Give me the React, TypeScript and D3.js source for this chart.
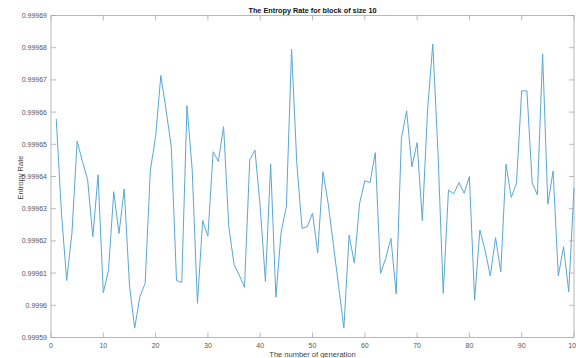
import * as d3 from "d3";

// entropy rate per generation (1..100)
const generations = d3.range(1, 101);
const entropyRate = [
  0.9996579, 0.9996286, 0.9996077, 0.9996223, 0.999651, 0.9996447, 0.999639, 0.9996213, 0.9996405, 0.9996039,
  0.9996109, 0.9996353, 0.9996223, 0.9996361, 0.9996063, 0.9995929, 0.9996027, 0.9996068, 0.999642, 0.9996524,
  0.9996714, 0.9996607, 0.9996492, 0.9996077, 0.9996071, 0.999662, 0.999642, 0.9996006, 0.9996263, 0.9996215,
  0.9996477, 0.9996447, 0.9996555, 0.9996244, 0.9996126, 0.9996094, 0.9996056, 0.9996452, 0.9996482, 0.9996306,
  0.9996074, 0.9996438, 0.9996025, 0.9996228, 0.9996306, 0.9996795, 0.9996441, 0.9996239, 0.9996244, 0.9996286,
  0.9996163, 0.9996415, 0.9996316, 0.9996188, 0.9996058, 0.9995929, 0.9996218, 0.9996131, 0.9996316, 0.9996387,
  0.9996381, 0.9996474, 0.9996099, 0.9996146, 0.9996208, 0.9996035, 0.9996519, 0.9996604, 0.999643, 0.9996505,
  0.9996263, 0.9996607, 0.9996811, 0.9996472, 0.9996037, 0.9996358, 0.9996346, 0.9996381, 0.9996348, 0.99964,
  0.9996016, 0.9996234, 0.9996171, 0.9996091, 0.999621, 0.9996104, 0.9996438, 0.9996335, 0.9996379, 0.9996666,
  0.9996666, 0.9996381, 0.9996343, 0.9996781, 0.9996314, 0.9996417, 0.9996091, 0.9996182, 0.9996042, 0.9996365,
];
const xTicks = [0, 10, 20, 30, 40, 50, 60, 70, 80, 90, 100];
const yTicks = [
  0.99959, 0.9996, 0.99961, 0.99962, 0.99963, 0.99964, 0.99965, 0.99966, 0.99967, 0.99968, 0.99969,
];

const width = 576;
const height = 358;
const left = 51;
const right = 574;
const top = 15.5;
const bottom = 337.5;
const tickLen = 5;
const axisColor = "#a8a8a8";
const labelColor = "#555";
const font = "'Liberation Sans', Arial, sans-serif";

const fmt = (v) => {
  const s = v.toFixed(5);
  return s.replace(/0+$/, "").replace(/\.$/, "");
};

const App = () => {
  const xScale = d3.scaleLinear().domain([0, 100]).range([left, right]);
  const yScale = d3.scaleLinear().domain([0.99959, 0.99969]).range([bottom, top]);

  const lineGen = d3
    .line()
    .x((d) => xScale(d[0]))
    .y((d) => yScale(d[1]));

  const points = generations.map((g, i) => [g, entropyRate[i]]);

  return (
    <svg
      width={width}
      height={height}
      style={{ position: "absolute", left: 0, top: 0, background: "#fff" }}
      fontFamily={font}
    >
      <rect x={0} y={0} width={width} height={height} fill="#fff" />
      {/* box */}
      <rect
        x={left}
        y={top}
        width={right - left}
        height={bottom - top}
        fill="none"
        stroke={axisColor}
        strokeWidth={0.8}
      />
      {/* x ticks */}
      <g>
        {xTicks.map((t) => (
          <g key={`x-${t}`}>
            <line x1={xScale(t)} x2={xScale(t)} y1={bottom} y2={bottom - tickLen} stroke={axisColor} strokeWidth={0.8} />
            <line x1={xScale(t)} x2={xScale(t)} y1={top} y2={top + tickLen} stroke={axisColor} strokeWidth={0.8} />
            <text x={xScale(t)} y={bottom + 10} textAnchor="middle" fontSize={7} fill={labelColor}>
              {t}
            </text>
          </g>
        ))}
      </g>
      {/* y ticks */}
      <g>
        {yTicks.map((t) => (
          <g key={`y-${t}`}>
            <line x1={left} x2={left + tickLen} y1={yScale(t)} y2={yScale(t)} stroke={axisColor} strokeWidth={0.8} />
            <line x1={right} x2={right - tickLen} y1={yScale(t)} y2={yScale(t)} stroke={axisColor} strokeWidth={0.8} />
            <text x={left - 4} y={yScale(t) + 2.4} textAnchor="end" fontSize={7} fill={labelColor}>
              {fmt(t)}
            </text>
          </g>
        ))}
      </g>
      <path d={lineGen(points)} fill="none" stroke="#5aa7d3" strokeWidth={1} />
      <text x={(left + right) / 2} y={12.5} textAnchor="middle" fontSize={7.3} fontWeight="bold" fill="#111">
        The Entropy Rate for block of size 10
      </text>
      <text x={(left + right) / 2} y={356.5} textAnchor="middle" fontSize={7.5} fill="#444">
        The number of generation
      </text>
      <text
        transform={`translate(23, ${(top + bottom) / 2 + 1}) rotate(-90)`}
        textAnchor="middle"
        fontSize={7.5}
        fill="#444"
      >
        Entropy Rate
      </text>
    </svg>
  );
};

export default App;
